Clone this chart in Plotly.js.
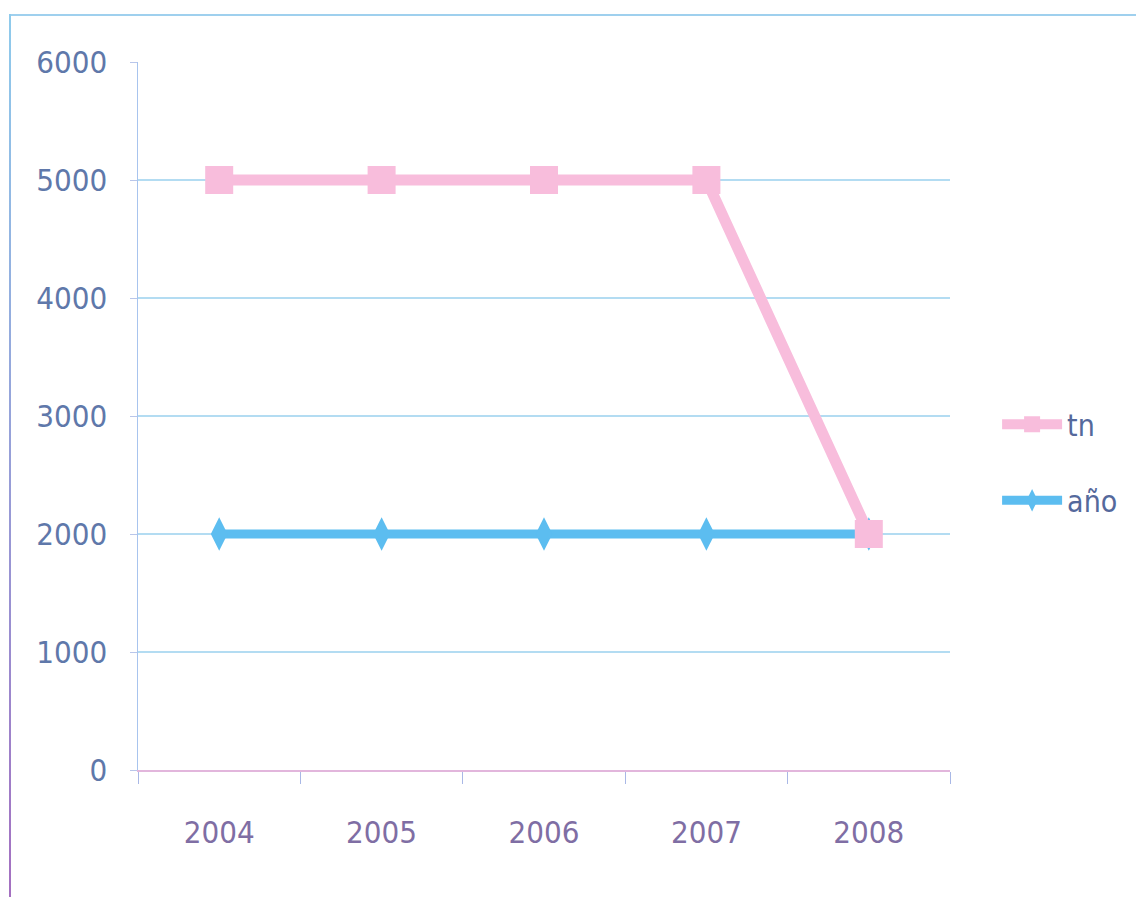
<!DOCTYPE html>
<html>
<head>
<meta charset="utf-8">
<script src="https://cdn.plot.ly/plotly-3.0.1.min.js"></script>
<style>
  html, body { margin: 0; padding: 0; background: #ffffff; }
  #wrap { position: relative; width: 1136px; height: 897px; }
  /* chart frame: a thin border along the top and left edges */
  #frame {
    position: absolute; left: 9px; top: 14px; width: 1127px; height: 883px;
    border-top: 2px solid #9fd0ee;
    box-sizing: border-box;
    pointer-events: none;
  }
  #frame:before {
    content: ""; position: absolute; left: 0; top: -2px; width: 2px; height: 885px;
    background: linear-gradient(#8fcbec, #9a8ed0 70%, #a46fc0);
  }
  #chart { position: absolute; left: 0; top: 0; width: 1136px; height: 897px; }
</style>
</head>
<body>
<div id="wrap">
  <div id="chart"></div>
  <div id="frame"></div>
</div>
<script>
// Years on the category axis
const years = ['2004', '2005', '2006', '2007', '2008'];
// Series values
const tnValues = [5000, 5000, 5000, 5000, 2000];
const anoValues = [2000, 2000, 2000, 2000, 2000];
// Value-axis ticks
const yTicks = [0, 1000, 2000, 3000, 4000, 5000, 6000];

const labelFont = "'DejaVu Sans Condensed', 'Liberation Sans', sans-serif";

// 'año' is listed first so that 'tn' is painted over it; legendrank puts 'tn' on top of the legend
const traces = [
  {
    x: years, y: anoValues, name: 'año', type: 'scatter', mode: 'lines+markers',
    legendgroup: 'b', legendrank: 2,
    line: { color: '#5cbdf0', width: 9 },
    marker: { symbol: 'diamond-tall', size: 24, color: '#5cbdf0' }
  },
  {
    x: years, y: tnValues, name: 'tn', type: 'scatter', mode: 'lines+markers',
    legendgroup: 'a', legendrank: 1,
    line: { color: '#f8bddc', width: 11 },
    marker: { symbol: 'square', size: 28, color: '#f8bddc' }
  }
];

const layout = {
  width: 1136, height: 897,
  margin: { l: 138, r: 186, t: 62, b: 127 },
  paper_bgcolor: 'rgba(0,0,0,0)',
  plot_bgcolor: '#ffffff',
  showlegend: true,
  legend: {
    x: 1.058, xanchor: 'left', y: 0.525, yanchor: 'top',
    traceorder: 'grouped', tracegroupgap: 34,
    itemwidth: 60,
    font: { family: labelFont, size: 30, color: '#55699c' },
    bgcolor: 'rgba(0,0,0,0)'
  },
  xaxis: {
    type: 'category',
    range: [-0.5, 4.5],
    tickson: 'boundaries',
    ticks: 'outside', ticklen: 12, tickcolor: '#a9b8e6', tickwidth: 1,
    showgrid: false,
    showline: true, linecolor: '#e2b6dc', linewidth: 2,
    ticklabelstandoff: 34,
    tickfont: { family: labelFont, size: 31, color: '#7f6ea4' },
    zeroline: false, fixedrange: true
  },
  yaxis: {
    range: [0, 6000],
    tickmode: 'array', tickvals: yTicks,
    ticktext: yTicks.map(String),
    ticks: 'outside', ticklen: 7, tickcolor: '#b9c6ea', tickwidth: 1,
    showgrid: true, gridcolor: '#b3dcf2', gridwidth: 1.5,
    showline: true, linecolor: '#a8c4ee', linewidth: 1.5,
    zeroline: false,
    ticklabelstandoff: 16,
    tickfont: { family: labelFont, size: 31, color: '#5f78aa' },
    fixedrange: true
  }
};

Plotly.newPlot('chart', traces, layout, { displayModeBar: false, staticPlot: true });
</script>
</body>
</html>
